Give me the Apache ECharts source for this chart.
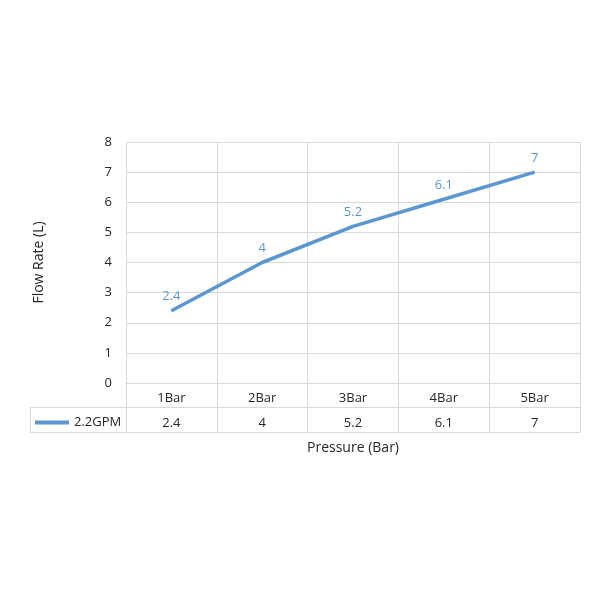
<!DOCTYPE html>
<html><head><meta charset="utf-8">
<script src="https://cdn.jsdelivr.net/npm/echarts@6/dist/echarts.min.js"></script>
<style>html,body{margin:0;background:#fff}#c{width:600px;height:600px}</style>
</head><body><div id="c"></div>
<script>
const categories = ['1Bar','2Bar','3Bar','4Bar','5Bar'];
const values = [2.4, 4, 5.2, 6.1, 7];
const seriesName = '2.2GPM';
const yTicks = [0,1,2,3,4,5,6,7,8];
const chart = echarts.init(document.getElementById('c'));
const txt = '#262626', grid = '#d9d9d9', blue = '#5b96d0';
const font = 'Open Sans';
chart.setOption({
  animation:false,
  textStyle:{fontFamily:font},
  grid:[{left:126,right:20,top:142,height:241},{left:126,right:20,top:383,height:49}],
  legend:{left:30,top:411,itemWidth:34,itemHeight:4,icon:'rect',textStyle:{color:txt,fontSize:13,fontFamily:font},data:[seriesName]},
  xAxis:[{type:'category',data:categories,gridIndex:0,
    axisLine:{lineStyle:{color:grid}},axisTick:{show:false},
    splitLine:{show:true,interval:0,lineStyle:{color:grid}},
    axisLabel:{interval:0,color:txt,fontSize:13,margin:3,lineHeight:25,
      formatter:(v,i)=>v+'\n'+values[i]}},
   {type:'category',data:categories,gridIndex:1,axisLine:{show:false},axisTick:{show:false},axisLabel:{show:false},
    splitLine:{show:true,interval:0,lineStyle:{color:grid}},
    name:'Pressure (Bar)',nameLocation:'middle',nameGap:9,nameTextStyle:{color:txt,fontSize:14,fontFamily:font},position:'bottom'}],
  yAxis:[{type:'value',gridIndex:0,min:yTicks[0],max:yTicks[yTicks.length-1],interval:1,
    axisLine:{show:false},axisTick:{show:false},splitLine:{lineStyle:{color:grid}},
    axisLabel:{color:txt,fontSize:13,margin:14},
    name:'Flow Rate (L)',nameLocation:'middle',nameGap:80,nameTextStyle:{color:txt,fontSize:14,fontFamily:font}},
   {type:'value',gridIndex:1,min:0,max:2,interval:1,axisLine:{show:false},axisTick:{show:false},axisLabel:{show:false},
    splitLine:{show:true,lineStyle:{color:grid}}}],
  graphic:[
    {type:'line',shape:{x1:30,y1:407.5,x2:126,y2:407.5},style:{stroke:grid}},
    {type:'line',shape:{x1:30,y1:432.5,x2:126,y2:432.5},style:{stroke:grid}},
    {type:'line',shape:{x1:30.5,y1:407,x2:30.5,y2:433},style:{stroke:grid}}
  ],
  series:[{name:seriesName,type:'line',data:values,xAxisIndex:0,yAxisIndex:0,
    symbol:'circle',symbolSize:1,showSymbol:true,lineStyle:{width:3.5,color:blue},itemStyle:{color:blue},
    label:{show:true,position:'top',distance:7,color:blue,fontSize:13}}]
});
</script></body></html>
